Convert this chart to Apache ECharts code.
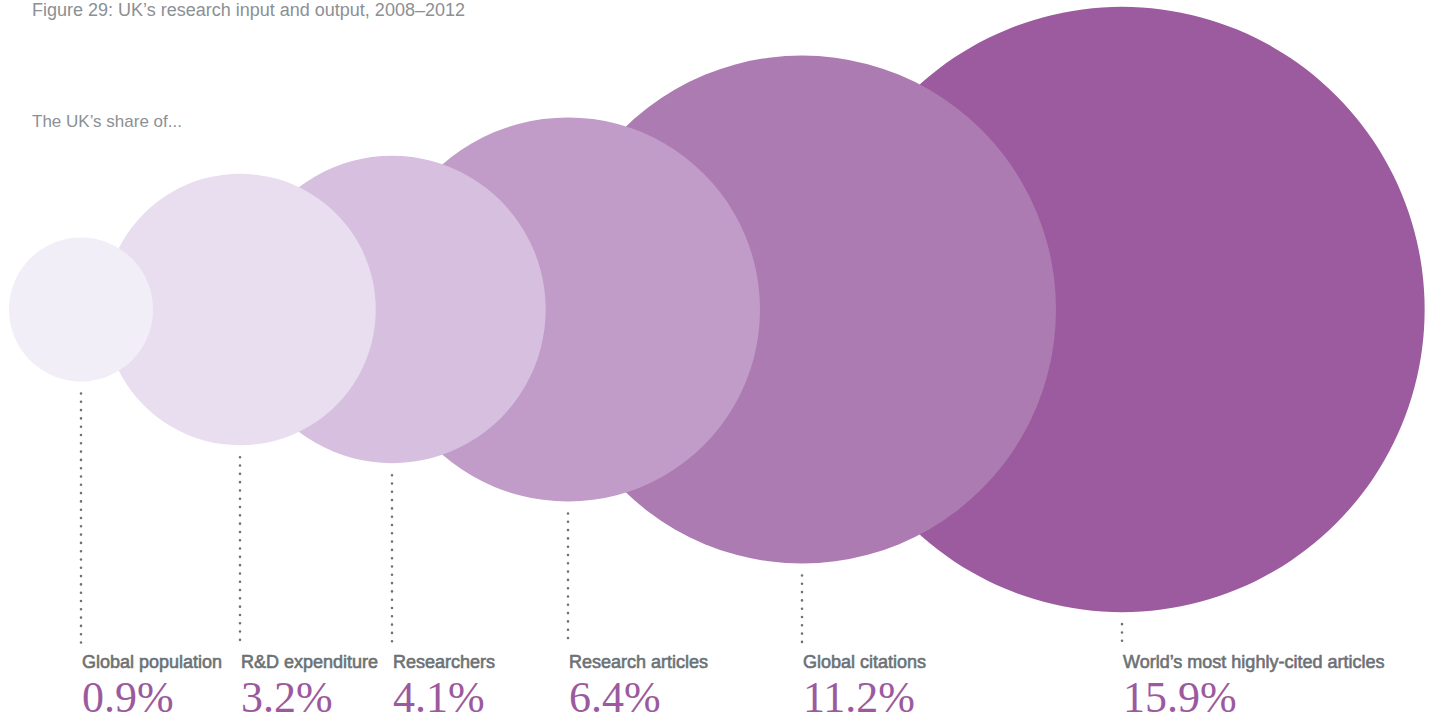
<!DOCTYPE html>
<html>
<head>
<meta charset="utf-8">
<title>UK's research input and output</title>
<script src="https://cdn.jsdelivr.net/npm/echarts@6/dist/echarts.min.js"></script>
<style>
  html, body { margin: 0; padding: 0; background: #fff; }
  #chart { width: 1429px; height: 721px; }
</style>
</head>
<body>
<div id="chart"></div>
<script>
// data
const categories = ['Global population', 'R&D expenditure', 'Researchers', 'Research articles', 'Global citations', 'World\u2019s most highly-cited articles']
const shares = [0.9, 3.2, 4.1, 6.4, 11.2, 15.9]
// where each bubble sits along the row (px on the hidden x axis)
const centreX = [81, 240, 392, 568, 802, 1122]
const bubbleColors = ['#f2eef8', '#e8deef', '#d7bfdf', '#c19cc9', '#ac7bb2', '#9c5b9e']

const ROW_Y = 309.5
const AREA_K = 75.9 // radius px = AREA_K * sqrt(share)
const LINE_END = 644
const LABEL_Y = 662
const VALUE_Y = 697

const chart = echarts.init(document.getElementById('chart'), null, { renderer: 'svg' })

const renderBubble = (params, api) => {
  const i = params.dataIndex
  const p = api.coord([api.value(0), ROW_Y])
  const r = AREA_K * Math.sqrt(api.value(1))
  return {
    type: 'group',
    children: [
      {
        type: 'circle',
        shape: { cx: p[0], cy: p[1], r: r },
        style: { fill: bubbleColors[i] },
        z2: 20 - i
      },
      {
        type: 'line',
        shape: { x1: p[0], y1: p[1] + r + 12, x2: p[0], y2: LINE_END },
        style: { stroke: '#6f7275', lineWidth: 2.6, lineDash: [0, 8.3], lineCap: 'round' },
        z2: 30
      },
      {
        type: 'text',
        x: p[0] + 1,
        y: LABEL_Y,
        style: {
          text: categories[i],
          fill: '#6c7175',
          font: '18px "Liberation Sans", Arial, sans-serif',
          stroke: '#6c7175',
          lineWidth: 0.6,
          align: 'left',
          verticalAlign: 'middle'
        },
        z2: 30
      },
      {
        type: 'text',
        x: p[0] + 1,
        y: VALUE_Y,
        style: {
          text: shares[i].toFixed(1) + '%',
          fill: '#9b5a9e',
          font: '44px "Liberation Serif", "DejaVu Serif", serif',
          align: 'left',
          verticalAlign: 'middle'
        },
        z2: 30
      }
    ]
  }
}

const option = {
  animation: false,
  backgroundColor: '#ffffff',
  grid: { left: 0, right: 0, top: 0, bottom: 0 },
  xAxis: { type: 'value', min: 0, max: 1429, show: false },
  yAxis: { type: 'value', min: 0, max: 721, inverse: true, show: false },
  graphic: [
    {
      type: 'text',
      left: 32,
      top: 1,
      style: {
        text: 'Figure 29: UK\u2019s research input and output, 2008\u20132012',
        fill: '#8b9094',
        font: '18px "Liberation Sans", Arial, sans-serif'
      }
    },
    {
      type: 'text',
      left: 32,
      top: 113,
      style: {
        text: 'The UK\u2019s share of...',
        fill: '#8b9094',
        font: '17px "Liberation Sans", Arial, sans-serif'
      }
    }
  ],
  series: [
    {
      type: 'custom',
      coordinateSystem: 'cartesian2d',
      renderItem: renderBubble,
      data: shares.map((v, i) => [centreX[i], v]),
      silent: true
    }
  ]
}

chart.setOption(option)
window.addEventListener('resize', () => chart.resize())
</script>
</body>
</html>
